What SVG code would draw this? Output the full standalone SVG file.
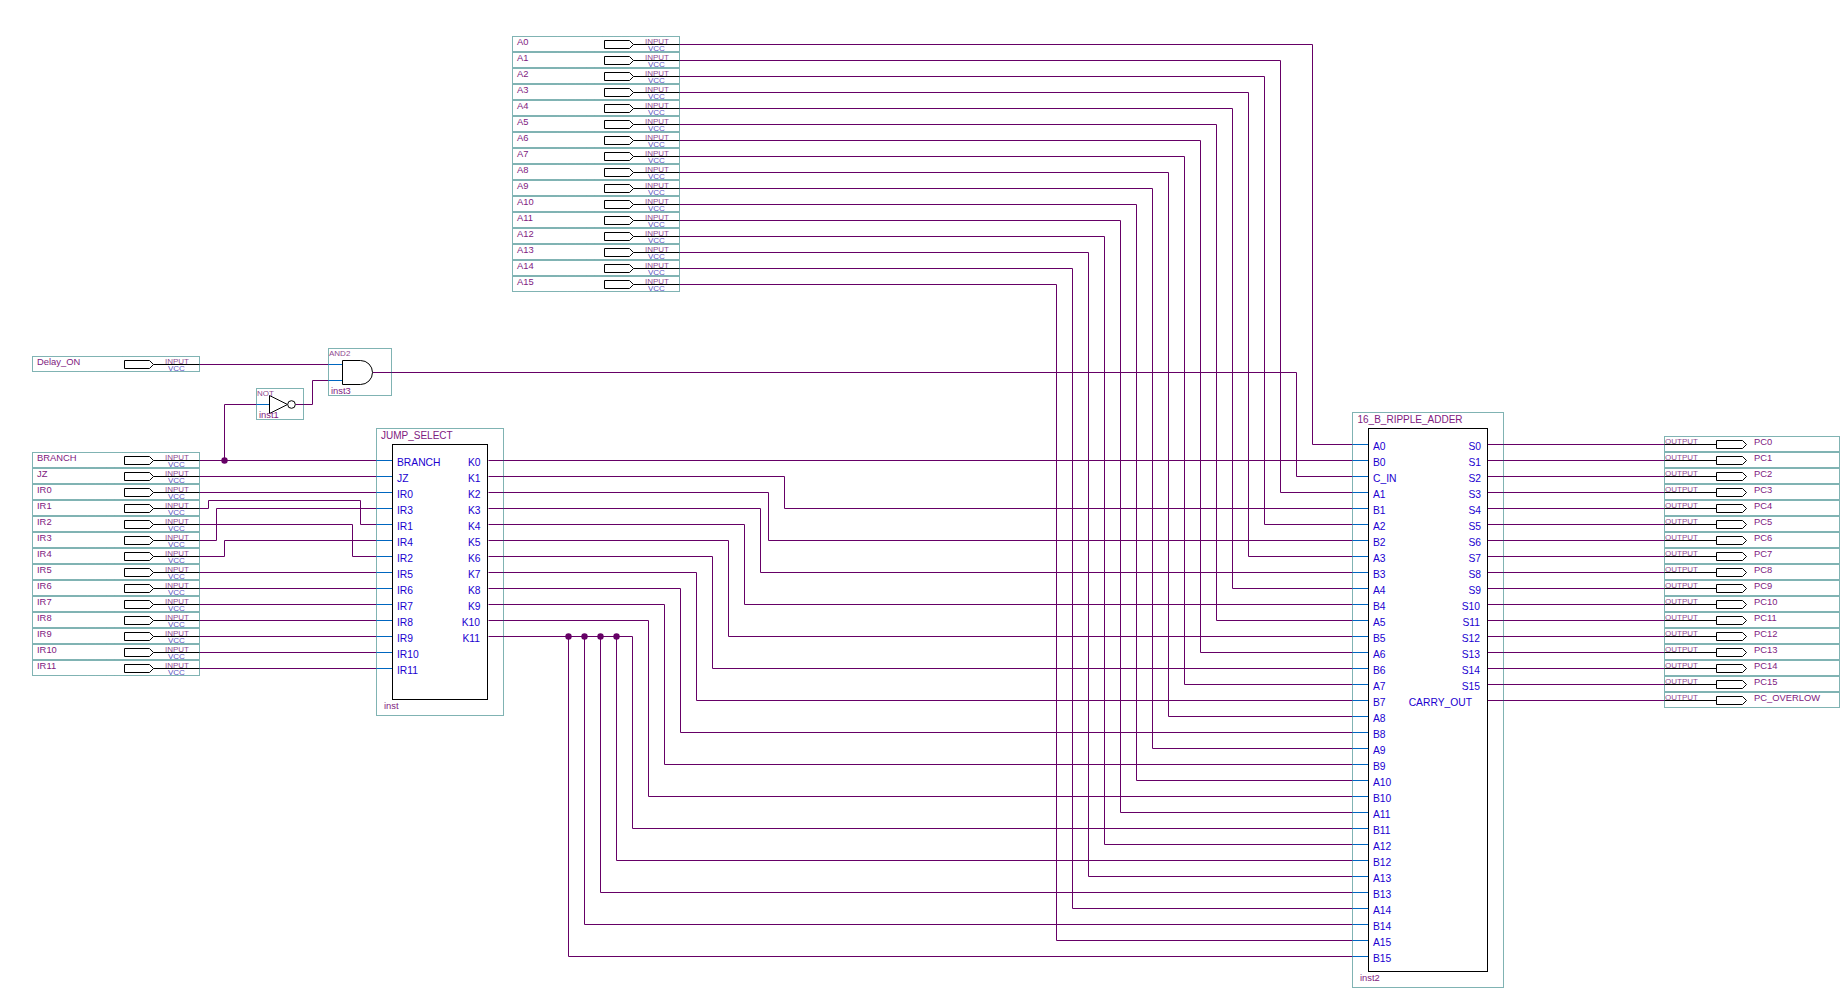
<svg xmlns="http://www.w3.org/2000/svg" width="1842" height="990" viewBox="0 0 1842 990">
<style>
text{font-family:"Liberation Sans",Arial,sans-serif}
.f{fill:none;stroke:#006666;stroke-width:1;stroke-dasharray:1 1}
.b{fill:#fff;stroke:#000;stroke-width:1}
.k{fill:none;stroke:#000;stroke-width:1}
.w{fill:none;stroke:#660066;stroke-width:1}
.s{fill:none;stroke:#0066c0;stroke-width:1}
.j{fill:#660066;stroke:none}
.lb{font-size:9.4px;fill:#802080}
.io{font-size:8px;fill:#904a90}
.vc{font-size:8px;fill:#5a50c0}
.t{font-size:10px;fill:#802080}
.sm{font-size:8px;fill:#904a90}
.p{font-size:10.3px;fill:#2000d0}
.e{text-anchor:end}
</style>
<defs>
<g id="inp"><rect class="f" x="0.5" y="-7.5" width="167" height="15"/><path class="k" d="M121.5 .5H167.5"/><path class="b" d="M92.5 -3.5H117.5L121.5 .5L117.5 4.5H92.5Z"/></g>
<g id="outp"><rect class="f" x="0.5" y="-7.5" width="175" height="15"/><path class="k" d="M.5 .5H52.5"/><path class="b" d="M52.5 -3.5H78.5L82.5 .5L78.5 4.5H52.5Z"/></g>
</defs>
<rect width="1842" height="990" fill="#fff"/>
<g id="connectors">
<path class="w" d="M679.5 44.5H1312.5V444.5H1352.5"/>
<path class="w" d="M679.5 60.5H1280.5V492.5H1352.5"/>
<path class="w" d="M679.5 76.5H1264.5V524.5H1352.5"/>
<path class="w" d="M679.5 92.5H1248.5V556.5H1352.5"/>
<path class="w" d="M679.5 108.5H1232.5V588.5H1352.5"/>
<path class="w" d="M679.5 124.5H1216.5V620.5H1352.5"/>
<path class="w" d="M679.5 140.5H1200.5V652.5H1352.5"/>
<path class="w" d="M679.5 156.5H1184.5V684.5H1352.5"/>
<path class="w" d="M679.5 172.5H1168.5V716.5H1352.5"/>
<path class="w" d="M679.5 188.5H1152.5V748.5H1352.5"/>
<path class="w" d="M679.5 204.5H1136.5V780.5H1352.5"/>
<path class="w" d="M679.5 220.5H1120.5V812.5H1352.5"/>
<path class="w" d="M679.5 236.5H1104.5V844.5H1352.5"/>
<path class="w" d="M679.5 252.5H1088.5V876.5H1352.5"/>
<path class="w" d="M679.5 268.5H1072.5V908.5H1352.5"/>
<path class="w" d="M679.5 284.5H1056.5V940.5H1352.5"/>
<path class="w" d="M199.5 364.5H328.5"/>
<path class="w" d="M372.5 372.5H1296.5V476.5H1352.5"/>
<path class="w" d="M295.5 404.5H312.5V380.5H328.5"/>
<path class="w" d="M224.5 460.5V404.5H256.5"/>
<path class="w" d="M199.5 460.5H376.5"/>
<path class="w" d="M199.5 476.5H376.5"/>
<path class="w" d="M199.5 492.5H376.5"/>
<path class="w" d="M199.5 508.5H208.5V500.5H360.5V524.5H376.5"/>
<path class="w" d="M199.5 540.5H216.5V508.5H376.5"/>
<path class="w" d="M199.5 524.5H352.5V556.5H376.5"/>
<path class="w" d="M199.5 556.5H224.5V540.5H376.5"/>
<path class="w" d="M199.5 572.5H376.5"/>
<path class="w" d="M199.5 588.5H376.5"/>
<path class="w" d="M199.5 604.5H376.5"/>
<path class="w" d="M199.5 620.5H376.5"/>
<path class="w" d="M199.5 636.5H376.5"/>
<path class="w" d="M199.5 652.5H376.5"/>
<path class="w" d="M199.5 668.5H376.5"/>
<path class="w" d="M488.5 460.5H1352.5"/>
<path class="w" d="M488.5 476.5H784.5V508.5H1352.5"/>
<path class="w" d="M488.5 492.5H768.5V540.5H1352.5"/>
<path class="w" d="M488.5 508.5H760.5V572.5H1352.5"/>
<path class="w" d="M488.5 524.5H744.5V604.5H1352.5"/>
<path class="w" d="M488.5 540.5H728.5V636.5H1352.5"/>
<path class="w" d="M488.5 556.5H712.5V668.5H1352.5"/>
<path class="w" d="M488.5 572.5H696.5V700.5H1352.5"/>
<path class="w" d="M488.5 588.5H680.5V732.5H1352.5"/>
<path class="w" d="M488.5 604.5H664.5V764.5H1352.5"/>
<path class="w" d="M488.5 620.5H648.5V796.5H1352.5"/>
<path class="w" d="M488.5 636.5H632.5V828.5H1352.5"/>
<path class="w" d="M616.5 636.5V860.5H1352.5"/>
<path class="w" d="M600.5 636.5V892.5H1352.5"/>
<path class="w" d="M584.5 636.5V924.5H1352.5"/>
<path class="w" d="M568.5 636.5V956.5H1352.5"/>
<path class="w" d="M1487.5 444.5H1664.5"/>
<path class="w" d="M1487.5 460.5H1664.5"/>
<path class="w" d="M1487.5 476.5H1664.5"/>
<path class="w" d="M1487.5 492.5H1664.5"/>
<path class="w" d="M1487.5 508.5H1664.5"/>
<path class="w" d="M1487.5 524.5H1664.5"/>
<path class="w" d="M1487.5 540.5H1664.5"/>
<path class="w" d="M1487.5 556.5H1664.5"/>
<path class="w" d="M1487.5 572.5H1664.5"/>
<path class="w" d="M1487.5 588.5H1664.5"/>
<path class="w" d="M1487.5 604.5H1664.5"/>
<path class="w" d="M1487.5 620.5H1664.5"/>
<path class="w" d="M1487.5 636.5H1664.5"/>
<path class="w" d="M1487.5 652.5H1664.5"/>
<path class="w" d="M1487.5 668.5H1664.5"/>
<path class="w" d="M1487.5 684.5H1664.5"/>
<path class="w" d="M1487.5 700.5H1664.5"/>
<circle class="j" cx="224.5" cy="460.5" r="3.2"/>
<circle class="j" cx="568.5" cy="636.5" r="3.2"/>
<circle class="j" cx="584.5" cy="636.5" r="3.2"/>
<circle class="j" cx="600.5" cy="636.5" r="3.2"/>
<circle class="j" cx="616.5" cy="636.5" r="3.2"/>
</g>
<g id="pin_A0" transform="translate(512,44)"><use href="#inp"/><text class="lb" x="5" y="0.5">A0</text><text class="io" x="133" y="0">INPUT</text><text class="vc" x="136" y="7">VCC</text></g>
<g id="pin_A1" transform="translate(512,60)"><use href="#inp"/><text class="lb" x="5" y="0.5">A1</text><text class="io" x="133" y="0">INPUT</text><text class="vc" x="136" y="7">VCC</text></g>
<g id="pin_A2" transform="translate(512,76)"><use href="#inp"/><text class="lb" x="5" y="0.5">A2</text><text class="io" x="133" y="0">INPUT</text><text class="vc" x="136" y="7">VCC</text></g>
<g id="pin_A3" transform="translate(512,92)"><use href="#inp"/><text class="lb" x="5" y="0.5">A3</text><text class="io" x="133" y="0">INPUT</text><text class="vc" x="136" y="7">VCC</text></g>
<g id="pin_A4" transform="translate(512,108)"><use href="#inp"/><text class="lb" x="5" y="0.5">A4</text><text class="io" x="133" y="0">INPUT</text><text class="vc" x="136" y="7">VCC</text></g>
<g id="pin_A5" transform="translate(512,124)"><use href="#inp"/><text class="lb" x="5" y="0.5">A5</text><text class="io" x="133" y="0">INPUT</text><text class="vc" x="136" y="7">VCC</text></g>
<g id="pin_A6" transform="translate(512,140)"><use href="#inp"/><text class="lb" x="5" y="0.5">A6</text><text class="io" x="133" y="0">INPUT</text><text class="vc" x="136" y="7">VCC</text></g>
<g id="pin_A7" transform="translate(512,156)"><use href="#inp"/><text class="lb" x="5" y="0.5">A7</text><text class="io" x="133" y="0">INPUT</text><text class="vc" x="136" y="7">VCC</text></g>
<g id="pin_A8" transform="translate(512,172)"><use href="#inp"/><text class="lb" x="5" y="0.5">A8</text><text class="io" x="133" y="0">INPUT</text><text class="vc" x="136" y="7">VCC</text></g>
<g id="pin_A9" transform="translate(512,188)"><use href="#inp"/><text class="lb" x="5" y="0.5">A9</text><text class="io" x="133" y="0">INPUT</text><text class="vc" x="136" y="7">VCC</text></g>
<g id="pin_A10" transform="translate(512,204)"><use href="#inp"/><text class="lb" x="5" y="0.5">A10</text><text class="io" x="133" y="0">INPUT</text><text class="vc" x="136" y="7">VCC</text></g>
<g id="pin_A11" transform="translate(512,220)"><use href="#inp"/><text class="lb" x="5" y="0.5">A11</text><text class="io" x="133" y="0">INPUT</text><text class="vc" x="136" y="7">VCC</text></g>
<g id="pin_A12" transform="translate(512,236)"><use href="#inp"/><text class="lb" x="5" y="0.5">A12</text><text class="io" x="133" y="0">INPUT</text><text class="vc" x="136" y="7">VCC</text></g>
<g id="pin_A13" transform="translate(512,252)"><use href="#inp"/><text class="lb" x="5" y="0.5">A13</text><text class="io" x="133" y="0">INPUT</text><text class="vc" x="136" y="7">VCC</text></g>
<g id="pin_A14" transform="translate(512,268)"><use href="#inp"/><text class="lb" x="5" y="0.5">A14</text><text class="io" x="133" y="0">INPUT</text><text class="vc" x="136" y="7">VCC</text></g>
<g id="pin_A15" transform="translate(512,284)"><use href="#inp"/><text class="lb" x="5" y="0.5">A15</text><text class="io" x="133" y="0">INPUT</text><text class="vc" x="136" y="7">VCC</text></g>
<g id="pin_Delay_ON" transform="translate(32,364)"><use href="#inp"/><text class="lb" x="5" y="0.5">Delay_ON</text><text class="io" x="133" y="0">INPUT</text><text class="vc" x="136" y="7">VCC</text></g>
<g id="pin_BRANCH" transform="translate(32,460)"><use href="#inp"/><text class="lb" x="5" y="0.5">BRANCH</text><text class="io" x="133" y="0">INPUT</text><text class="vc" x="136" y="7">VCC</text></g>
<g id="pin_JZ" transform="translate(32,476)"><use href="#inp"/><text class="lb" x="5" y="0.5">JZ</text><text class="io" x="133" y="0">INPUT</text><text class="vc" x="136" y="7">VCC</text></g>
<g id="pin_IR0" transform="translate(32,492)"><use href="#inp"/><text class="lb" x="5" y="0.5">IR0</text><text class="io" x="133" y="0">INPUT</text><text class="vc" x="136" y="7">VCC</text></g>
<g id="pin_IR1" transform="translate(32,508)"><use href="#inp"/><text class="lb" x="5" y="0.5">IR1</text><text class="io" x="133" y="0">INPUT</text><text class="vc" x="136" y="7">VCC</text></g>
<g id="pin_IR2" transform="translate(32,524)"><use href="#inp"/><text class="lb" x="5" y="0.5">IR2</text><text class="io" x="133" y="0">INPUT</text><text class="vc" x="136" y="7">VCC</text></g>
<g id="pin_IR3" transform="translate(32,540)"><use href="#inp"/><text class="lb" x="5" y="0.5">IR3</text><text class="io" x="133" y="0">INPUT</text><text class="vc" x="136" y="7">VCC</text></g>
<g id="pin_IR4" transform="translate(32,556)"><use href="#inp"/><text class="lb" x="5" y="0.5">IR4</text><text class="io" x="133" y="0">INPUT</text><text class="vc" x="136" y="7">VCC</text></g>
<g id="pin_IR5" transform="translate(32,572)"><use href="#inp"/><text class="lb" x="5" y="0.5">IR5</text><text class="io" x="133" y="0">INPUT</text><text class="vc" x="136" y="7">VCC</text></g>
<g id="pin_IR6" transform="translate(32,588)"><use href="#inp"/><text class="lb" x="5" y="0.5">IR6</text><text class="io" x="133" y="0">INPUT</text><text class="vc" x="136" y="7">VCC</text></g>
<g id="pin_IR7" transform="translate(32,604)"><use href="#inp"/><text class="lb" x="5" y="0.5">IR7</text><text class="io" x="133" y="0">INPUT</text><text class="vc" x="136" y="7">VCC</text></g>
<g id="pin_IR8" transform="translate(32,620)"><use href="#inp"/><text class="lb" x="5" y="0.5">IR8</text><text class="io" x="133" y="0">INPUT</text><text class="vc" x="136" y="7">VCC</text></g>
<g id="pin_IR9" transform="translate(32,636)"><use href="#inp"/><text class="lb" x="5" y="0.5">IR9</text><text class="io" x="133" y="0">INPUT</text><text class="vc" x="136" y="7">VCC</text></g>
<g id="pin_IR10" transform="translate(32,652)"><use href="#inp"/><text class="lb" x="5" y="0.5">IR10</text><text class="io" x="133" y="0">INPUT</text><text class="vc" x="136" y="7">VCC</text></g>
<g id="pin_IR11" transform="translate(32,668)"><use href="#inp"/><text class="lb" x="5" y="0.5">IR11</text><text class="io" x="133" y="0">INPUT</text><text class="vc" x="136" y="7">VCC</text></g>
<g id="inst3_AND2">
<rect class="f" x="328.5" y="348.5" width="63" height="47"/>
<path class="s" d="M328.5 364.5H342.5M328.5 380.5H342.5"/>
<path class="b" d="M342.5 360.5H360.5A12 12 0 0 1 360.5 384.5H342.5Z"/>
<text class="sm" x="329" y="356">AND2</text>
<text class="lb" x="331" y="393.5">inst3</text>
</g>
<g id="inst1_NOT">
<rect class="f" x="256.5" y="388.5" width="47" height="31"/>
<path class="s" d="M256.5 404.5H269.5"/>
<path class="b" d="M269.5 395.5L287.5 404.5L269.5 413.5Z"/>
<circle class="b" cx="291.5" cy="404.5" r="3.8"/>
<text class="sm" x="257" y="395.5">NOT</text>
<text class="lb" x="259" y="418">inst1</text>
</g>
<g id="inst_JUMP_SELECT">
<rect class="f" x="376.5" y="428.5" width="127" height="287"/>
<path class="s" d="M376.5 460.5H392.5M376.5 476.5H392.5M376.5 492.5H392.5M376.5 508.5H392.5M376.5 524.5H392.5M376.5 540.5H392.5M376.5 556.5H392.5M376.5 572.5H392.5M376.5 588.5H392.5M376.5 604.5H392.5M376.5 620.5H392.5M376.5 636.5H392.5M376.5 652.5H392.5M376.5 668.5H392.5"/>
<rect class="b" x="392.5" y="444.5" width="95" height="255"/>
<text class="t" x="381" y="439">JUMP_SELECT</text>
<text class="lb" x="384" y="708.5">inst</text>
<text class="p" x="397" y="465.5">BRANCH</text>
<text class="p" x="397" y="481.5">JZ</text>
<text class="p" x="397" y="497.5">IR0</text>
<text class="p" x="397" y="513.5">IR3</text>
<text class="p" x="397" y="529.5">IR1</text>
<text class="p" x="397" y="545.5">IR4</text>
<text class="p" x="397" y="561.5">IR2</text>
<text class="p" x="397" y="577.5">IR5</text>
<text class="p" x="397" y="593.5">IR6</text>
<text class="p" x="397" y="609.5">IR7</text>
<text class="p" x="397" y="625.5">IR8</text>
<text class="p" x="397" y="641.5">IR9</text>
<text class="p" x="397" y="657.5">IR10</text>
<text class="p" x="397" y="673.5">IR11</text>
<text class="p e" x="480.5" y="465.5">K0</text>
<text class="p e" x="480.5" y="481.5">K1</text>
<text class="p e" x="480.5" y="497.5">K2</text>
<text class="p e" x="480.5" y="513.5">K3</text>
<text class="p e" x="480.5" y="529.5">K4</text>
<text class="p e" x="480.5" y="545.5">K5</text>
<text class="p e" x="480.5" y="561.5">K6</text>
<text class="p e" x="480.5" y="577.5">K7</text>
<text class="p e" x="480.5" y="593.5">K8</text>
<text class="p e" x="480.5" y="609.5">K9</text>
<text class="p e" x="480" y="625.5">K10</text>
<text class="p e" x="480" y="641.5">K11</text>
</g>
<g id="inst2_16_B_RIPPLE_ADDER">
<rect class="f" x="1352.5" y="412.5" width="151" height="575"/>
<path class="s" d="M1352.5 444.5H1368.5M1352.5 460.5H1368.5M1352.5 476.5H1368.5M1352.5 492.5H1368.5M1352.5 508.5H1368.5M1352.5 524.5H1368.5M1352.5 540.5H1368.5M1352.5 556.5H1368.5M1352.5 572.5H1368.5M1352.5 588.5H1368.5M1352.5 604.5H1368.5M1352.5 620.5H1368.5M1352.5 636.5H1368.5M1352.5 652.5H1368.5M1352.5 668.5H1368.5M1352.5 684.5H1368.5M1352.5 700.5H1368.5M1352.5 716.5H1368.5M1352.5 732.5H1368.5M1352.5 748.5H1368.5M1352.5 764.5H1368.5M1352.5 780.5H1368.5M1352.5 796.5H1368.5M1352.5 812.5H1368.5M1352.5 828.5H1368.5M1352.5 844.5H1368.5M1352.5 860.5H1368.5M1352.5 876.5H1368.5M1352.5 892.5H1368.5M1352.5 908.5H1368.5M1352.5 924.5H1368.5M1352.5 940.5H1368.5M1352.5 956.5H1368.5"/>
<rect class="b" x="1368.5" y="428.5" width="119" height="543"/>
<text class="t" x="1357.5" y="423">16_B_RIPPLE_ADDER</text>
<text class="lb" x="1360" y="981">inst2</text>
<text class="p" x="1373" y="449.5">A0</text>
<text class="p" x="1373" y="465.5">B0</text>
<text class="p" x="1373" y="481.5">C_IN</text>
<text class="p" x="1373" y="497.5">A1</text>
<text class="p" x="1373" y="513.5">B1</text>
<text class="p" x="1373" y="529.5">A2</text>
<text class="p" x="1373" y="545.5">B2</text>
<text class="p" x="1373" y="561.5">A3</text>
<text class="p" x="1373" y="577.5">B3</text>
<text class="p" x="1373" y="593.5">A4</text>
<text class="p" x="1373" y="609.5">B4</text>
<text class="p" x="1373" y="625.5">A5</text>
<text class="p" x="1373" y="641.5">B5</text>
<text class="p" x="1373" y="657.5">A6</text>
<text class="p" x="1373" y="673.5">B6</text>
<text class="p" x="1373" y="689.5">A7</text>
<text class="p" x="1373" y="705.5">B7</text>
<text class="p" x="1373" y="721.5">A8</text>
<text class="p" x="1373" y="737.5">B8</text>
<text class="p" x="1373" y="753.5">A9</text>
<text class="p" x="1373" y="769.5">B9</text>
<text class="p" x="1373" y="785.5">A10</text>
<text class="p" x="1373" y="801.5">B10</text>
<text class="p" x="1373" y="817.5">A11</text>
<text class="p" x="1373" y="833.5">B11</text>
<text class="p" x="1373" y="849.5">A12</text>
<text class="p" x="1373" y="865.5">B12</text>
<text class="p" x="1373" y="881.5">A13</text>
<text class="p" x="1373" y="897.5">B13</text>
<text class="p" x="1373" y="913.5">A14</text>
<text class="p" x="1373" y="929.5">B14</text>
<text class="p" x="1373" y="945.5">A15</text>
<text class="p" x="1373" y="961.5">B15</text>
<text class="p e" x="1481" y="449.5">S0</text>
<text class="p e" x="1481" y="465.5">S1</text>
<text class="p e" x="1481" y="481.5">S2</text>
<text class="p e" x="1481" y="497.5">S3</text>
<text class="p e" x="1481" y="513.5">S4</text>
<text class="p e" x="1481" y="529.5">S5</text>
<text class="p e" x="1481" y="545.5">S6</text>
<text class="p e" x="1481" y="561.5">S7</text>
<text class="p e" x="1481" y="577.5">S8</text>
<text class="p e" x="1481" y="593.5">S9</text>
<text class="p e" x="1480" y="609.5">S10</text>
<text class="p e" x="1480" y="625.5">S11</text>
<text class="p e" x="1480" y="641.5">S12</text>
<text class="p e" x="1480" y="657.5">S13</text>
<text class="p e" x="1480" y="673.5">S14</text>
<text class="p e" x="1480" y="689.5">S15</text>
<text class="p e" x="1472" y="705.5">CARRY_OUT</text>
</g>
<g id="pin_PC0" transform="translate(1664,444)"><use href="#outp"/><text class="io" x="1" y="0">OUTPUT</text><text class="lb" x="90" y="0.5">PC0</text></g>
<g id="pin_PC1" transform="translate(1664,460)"><use href="#outp"/><text class="io" x="1" y="0">OUTPUT</text><text class="lb" x="90" y="0.5">PC1</text></g>
<g id="pin_PC2" transform="translate(1664,476)"><use href="#outp"/><text class="io" x="1" y="0">OUTPUT</text><text class="lb" x="90" y="0.5">PC2</text></g>
<g id="pin_PC3" transform="translate(1664,492)"><use href="#outp"/><text class="io" x="1" y="0">OUTPUT</text><text class="lb" x="90" y="0.5">PC3</text></g>
<g id="pin_PC4" transform="translate(1664,508)"><use href="#outp"/><text class="io" x="1" y="0">OUTPUT</text><text class="lb" x="90" y="0.5">PC4</text></g>
<g id="pin_PC5" transform="translate(1664,524)"><use href="#outp"/><text class="io" x="1" y="0">OUTPUT</text><text class="lb" x="90" y="0.5">PC5</text></g>
<g id="pin_PC6" transform="translate(1664,540)"><use href="#outp"/><text class="io" x="1" y="0">OUTPUT</text><text class="lb" x="90" y="0.5">PC6</text></g>
<g id="pin_PC7" transform="translate(1664,556)"><use href="#outp"/><text class="io" x="1" y="0">OUTPUT</text><text class="lb" x="90" y="0.5">PC7</text></g>
<g id="pin_PC8" transform="translate(1664,572)"><use href="#outp"/><text class="io" x="1" y="0">OUTPUT</text><text class="lb" x="90" y="0.5">PC8</text></g>
<g id="pin_PC9" transform="translate(1664,588)"><use href="#outp"/><text class="io" x="1" y="0">OUTPUT</text><text class="lb" x="90" y="0.5">PC9</text></g>
<g id="pin_PC10" transform="translate(1664,604)"><use href="#outp"/><text class="io" x="1" y="0">OUTPUT</text><text class="lb" x="90" y="0.5">PC10</text></g>
<g id="pin_PC11" transform="translate(1664,620)"><use href="#outp"/><text class="io" x="1" y="0">OUTPUT</text><text class="lb" x="90" y="0.5">PC11</text></g>
<g id="pin_PC12" transform="translate(1664,636)"><use href="#outp"/><text class="io" x="1" y="0">OUTPUT</text><text class="lb" x="90" y="0.5">PC12</text></g>
<g id="pin_PC13" transform="translate(1664,652)"><use href="#outp"/><text class="io" x="1" y="0">OUTPUT</text><text class="lb" x="90" y="0.5">PC13</text></g>
<g id="pin_PC14" transform="translate(1664,668)"><use href="#outp"/><text class="io" x="1" y="0">OUTPUT</text><text class="lb" x="90" y="0.5">PC14</text></g>
<g id="pin_PC15" transform="translate(1664,684)"><use href="#outp"/><text class="io" x="1" y="0">OUTPUT</text><text class="lb" x="90" y="0.5">PC15</text></g>
<g id="pin_PC_OVERLOW" transform="translate(1664,700)"><use href="#outp"/><text class="io" x="1" y="0">OUTPUT</text><text class="lb" x="90" y="0.5">PC_OVERLOW</text></g>
</svg>
